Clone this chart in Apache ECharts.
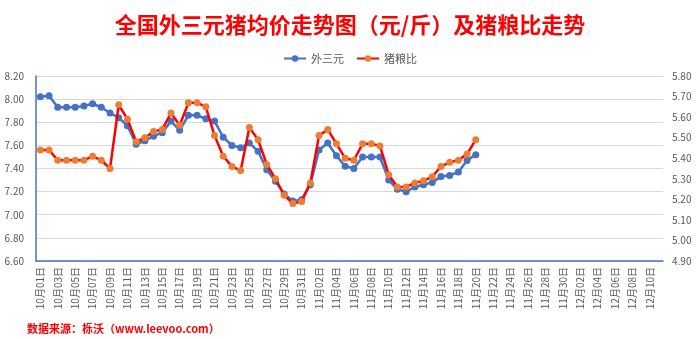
<!DOCTYPE html>
<html>
<head>
<meta charset="utf-8">
<script src="https://cdn.jsdelivr.net/npm/echarts@6/dist/echarts.min.js"></script>
<style>
  html, body { margin: 0; padding: 0; background: #fff; }
  #chart { width: 700px; height: 339px; }
</style>
</head>
<body>
<div id="chart"></div>
<script>
// Daily categories, 10/01 to 12/11
const dates = [
  '10月01日','10月02日','10月03日','10月04日','10月05日','10月06日','10月07日','10月08日','10月09日','10月10日',
  '10月11日','10月12日','10月13日','10月14日','10月15日','10月16日','10月17日','10月18日','10月19日','10月20日',
  '10月21日','10月22日','10月23日','10月24日','10月25日','10月26日','10月27日','10月28日','10月29日','10月30日',
  '10月31日','11月01日','11月02日','11月03日','11月04日','11月05日','11月06日','11月07日','11月08日','11月09日',
  '11月10日','11月11日','11月12日','11月13日','11月14日','11月15日','11月16日','11月17日','11月18日','11月19日',
  '11月20日','11月21日','11月22日','11月23日','11月24日','11月25日','11月26日','11月27日','11月28日','11月29日',
  '11月30日','12月01日','12月02日','12月03日','12月04日','12月05日','12月06日','12月07日','12月08日','12月09日',
  '12月10日','12月11日'
];

// 外三元 average price (元/斤), left axis
const priceWaiSanYuan = [
  8.02, 8.03, 7.93, 7.93, 7.93, 7.94, 7.96, 7.93, 7.88, 7.84,
  7.77, 7.61, 7.64, 7.68, 7.71, 7.81, 7.73, 7.86, 7.86, 7.83,
  7.81, 7.67, 7.60, 7.58, 7.62, 7.55, 7.39, 7.29, 7.18, 7.12,
  7.13, 7.26, 7.56, 7.62, 7.51, 7.42, 7.40, 7.50, 7.50, 7.50,
  7.30, 7.22, 7.20, 7.24, 7.26, 7.28, 7.33, 7.34, 7.37, 7.47,
  7.52
];

// 猪粮比 ratio, right axis
const pigGrainRatio = [
  5.44, 5.44, 5.39, 5.39, 5.39, 5.39, 5.41, 5.39, 5.35, 5.66,
  5.59, 5.48, 5.50, 5.53, 5.54, 5.62, 5.56, 5.67, 5.67, 5.65,
  5.51, 5.41, 5.36, 5.34, 5.55, 5.49, 5.37, 5.30, 5.22, 5.18,
  5.19, 5.28, 5.51, 5.54, 5.47, 5.40, 5.39, 5.47, 5.47, 5.46,
  5.32, 5.26, 5.26, 5.28, 5.29, 5.31, 5.36, 5.38, 5.39, 5.42,
  5.49
];

const leftTicks = { min: 6.6, max: 8.2, interval: 0.2 };
const rightTicks = { min: 4.9, max: 5.8, interval: 0.1 };

const BLUE = '#4472C4';
const RED = '#FF0000';
const ORANGE = '#ED7D31';
const AXIS_TEXT = '#595959';
const GRID_LINE = '#D9D9D9';
const FONT = '"Noto Sans CJK SC", "Microsoft YaHei", sans-serif';

const chart = echarts.init(document.getElementById('chart'), null, { renderer: 'canvas' });

chart.setOption({
  animation: false,
  backgroundColor: '#ffffff',
  textStyle: { fontFamily: FONT },
  title: [
    {
      text: '全国外三元猪均价走势图（元/斤）及猪粮比走势',
      left: 'center',
      top: 9,
      textStyle: { color: '#FF0000', fontSize: 22, fontWeight: 'bold', fontFamily: FONT }
    },
    {
      text: '数据来源：栎沃（www.leevoo.com）',
      left: 22,
      top: 318,
      textStyle: { color: '#FF0000', fontSize: 11, fontWeight: 'bold', fontFamily: FONT }
    }
  ],
  legend: {
    top: 48,
    left: 'center',
    itemWidth: 22,
    itemHeight: 8,
    itemGap: 12,
    textStyle: { color: AXIS_TEXT, fontSize: 11, fontFamily: FONT },
    data: ['外三元', '猪粮比']
  },
  grid: { left: 36, right: 37, top: 76, bottom: 78 },
  xAxis: {
    type: 'category',
    data: dates,
    boundaryGap: true,
    axisLine: { lineStyle: { color: BLUE, width: 1.5 } },
    axisTick: { interval: 1, length: 4, lineStyle: { color: BLUE } },
    axisLabel: {
      interval: 1,
      rotate: 90,
      color: AXIS_TEXT,
      fontSize: 10,
      margin: 6,
      fontFamily: FONT
    },
    splitLine: { show: false }
  },
  yAxis: [
    {
      type: 'value',
      min: leftTicks.min,
      max: leftTicks.max,
      interval: leftTicks.interval,
      position: 'left',
      axisLine: { show: true, lineStyle: { color: BLUE, width: 1.5 } },
      axisTick: { show: false },
      axisLabel: {
        color: AXIS_TEXT,
        fontSize: 10,
        margin: 12,
        fontFamily: FONT,
        formatter: v => v.toFixed(2)
      },
      splitLine: { lineStyle: { color: GRID_LINE, width: 1 } }
    },
    {
      type: 'value',
      min: rightTicks.min,
      max: rightTicks.max,
      interval: rightTicks.interval,
      position: 'right',
      axisLine: { show: false },
      axisTick: { show: false },
      axisLabel: {
        color: AXIS_TEXT,
        fontSize: 10,
        margin: 9,
        fontFamily: FONT,
        formatter: v => v.toFixed(2)
      },
      splitLine: { show: false }
    }
  ],
  series: [
    {
      name: '外三元',
      type: 'line',
      yAxisIndex: 0,
      data: priceWaiSanYuan,
      symbol: 'circle',
      symbolSize: 7,
      showSymbol: true,
      showAllSymbol: true,
      lineStyle: { color: BLUE, width: 2.5 },
      itemStyle: { color: BLUE },
      z: 2
    },
    {
      name: '猪粮比',
      type: 'line',
      yAxisIndex: 1,
      data: pigGrainRatio,
      symbol: 'circle',
      symbolSize: 7,
      showSymbol: true,
      showAllSymbol: true,
      lineStyle: { color: RED, width: 2.5 },
      itemStyle: { color: ORANGE },
      z: 3
    }
  ]
});
</script>
</body>
</html>
